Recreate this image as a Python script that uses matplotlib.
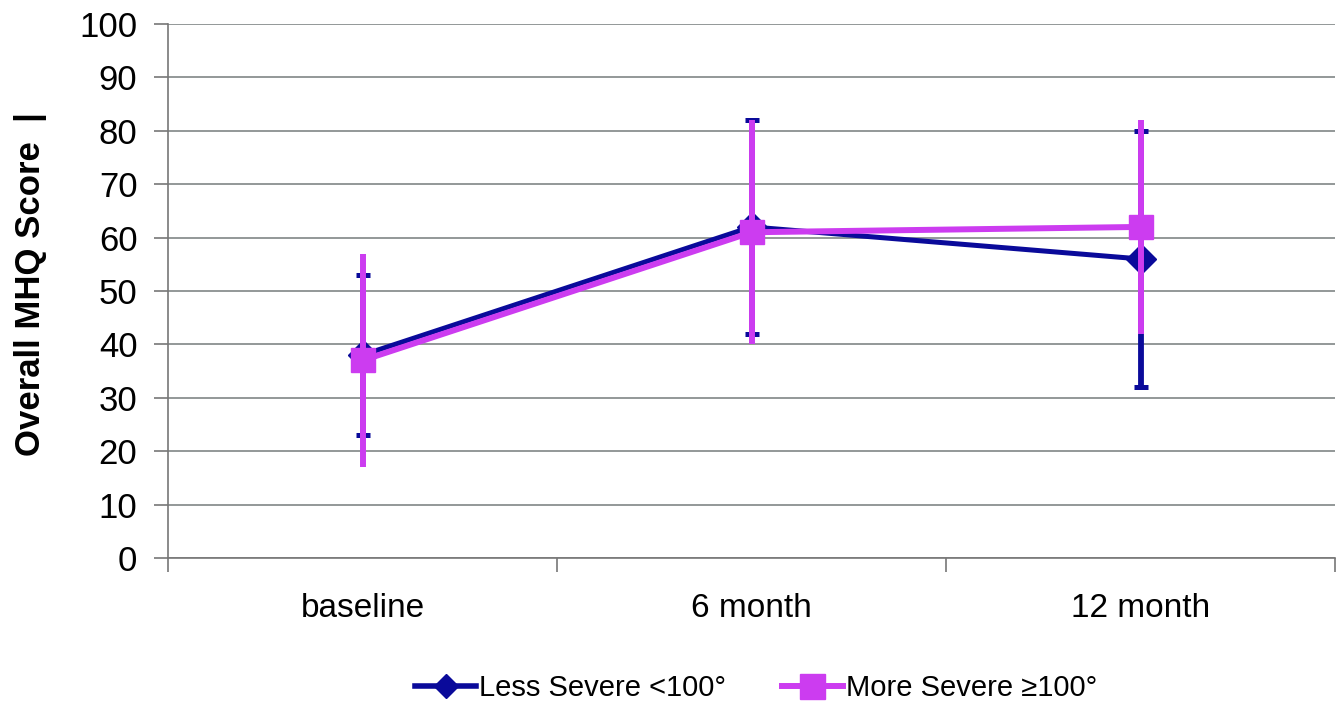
import matplotlib
matplotlib.use("Agg")
import matplotlib.pyplot as plt
from matplotlib.lines import Line2D
import numpy as np

plt.rcParams['font.family'] = ['Liberation Sans', 'DejaVu Sans']

categories = ["baseline", "6 month", "12 month"]
less_vals = [38, 62, 56]
less_err = [15, 20, 24]
more_vals = [37, 61, 62]
more_err = [20, 21, 20]
yticks = list(range(0, 101, 10))

blue = "#0a0a9a"
pink = "#cc3cf0"

fig = plt.figure(figsize=(13.44, 7.06), dpi=100)
ax = fig.add_axes([168/1344, 1-558/706, (1335-168)/1344, (558-24)/706])

x = np.arange(len(categories))
ax.errorbar(x, less_vals, yerr=less_err, color=blue, lw=3.6, elinewidth=4.2,
            capsize=4.7, capthick=3.6, marker='D', markersize=15, zorder=3,
            label="Less Severe <100°")
ax.errorbar(x, more_vals, yerr=more_err, color=pink, lw=4.3, elinewidth=4.3,
            capsize=0, marker='s', markersize=17, zorder=4,
            label="More Severe \u2265100°")

ax.set_ylim(0, 100)
ax.set_xlim(-0.5, 2.5)
ax.set_yticks(yticks)
ax.set_xticks(x)
ax.set_xticklabels(categories)
ax.set_xticks([-0.5, 0.5, 1.5, 2.5], minor=True)
ax.tick_params(axis='x', which='major', length=0, pad=25, labelsize=24)
ax.tick_params(axis='x', which='minor', length=10, color='#777777', width=1.2)
ax.tick_params(axis='y', length=10, color='#777777', width=1.2, labelsize=25, pad=12)
ax.yaxis.grid(True, color='#8a9090', lw=1.3)
ax.set_axisbelow(True)
for s in ['top', 'right']:
    ax.spines[s].set_visible(False)
for s in ['left', 'bottom']:
    ax.spines[s].set_color('#777777')
    ax.spines[s].set_linewidth(1.2)

ax.set_ylabel("Overall MHQ Score  |", fontsize=25, fontweight='bold')
ax.yaxis.set_label_coords(-0.104, 0.513)

labels = ["Less Severe <100°", "More Severe \u2265100°"]
h1 = Line2D([], [], color=blue, lw=4, marker='D', markersize=12)
h2 = Line2D([], [], color=pink, lw=4.3, marker='s', markersize=18)
fig.legend([h1, h2], labels, loc='center', bbox_to_anchor=(0.5625, 1-688/706),
           ncol=2, frameon=False, fontsize=21, handlelength=2.1,
           handletextpad=0.1, columnspacing=1.9)

fig.savefig("out.png", dpi=100)
